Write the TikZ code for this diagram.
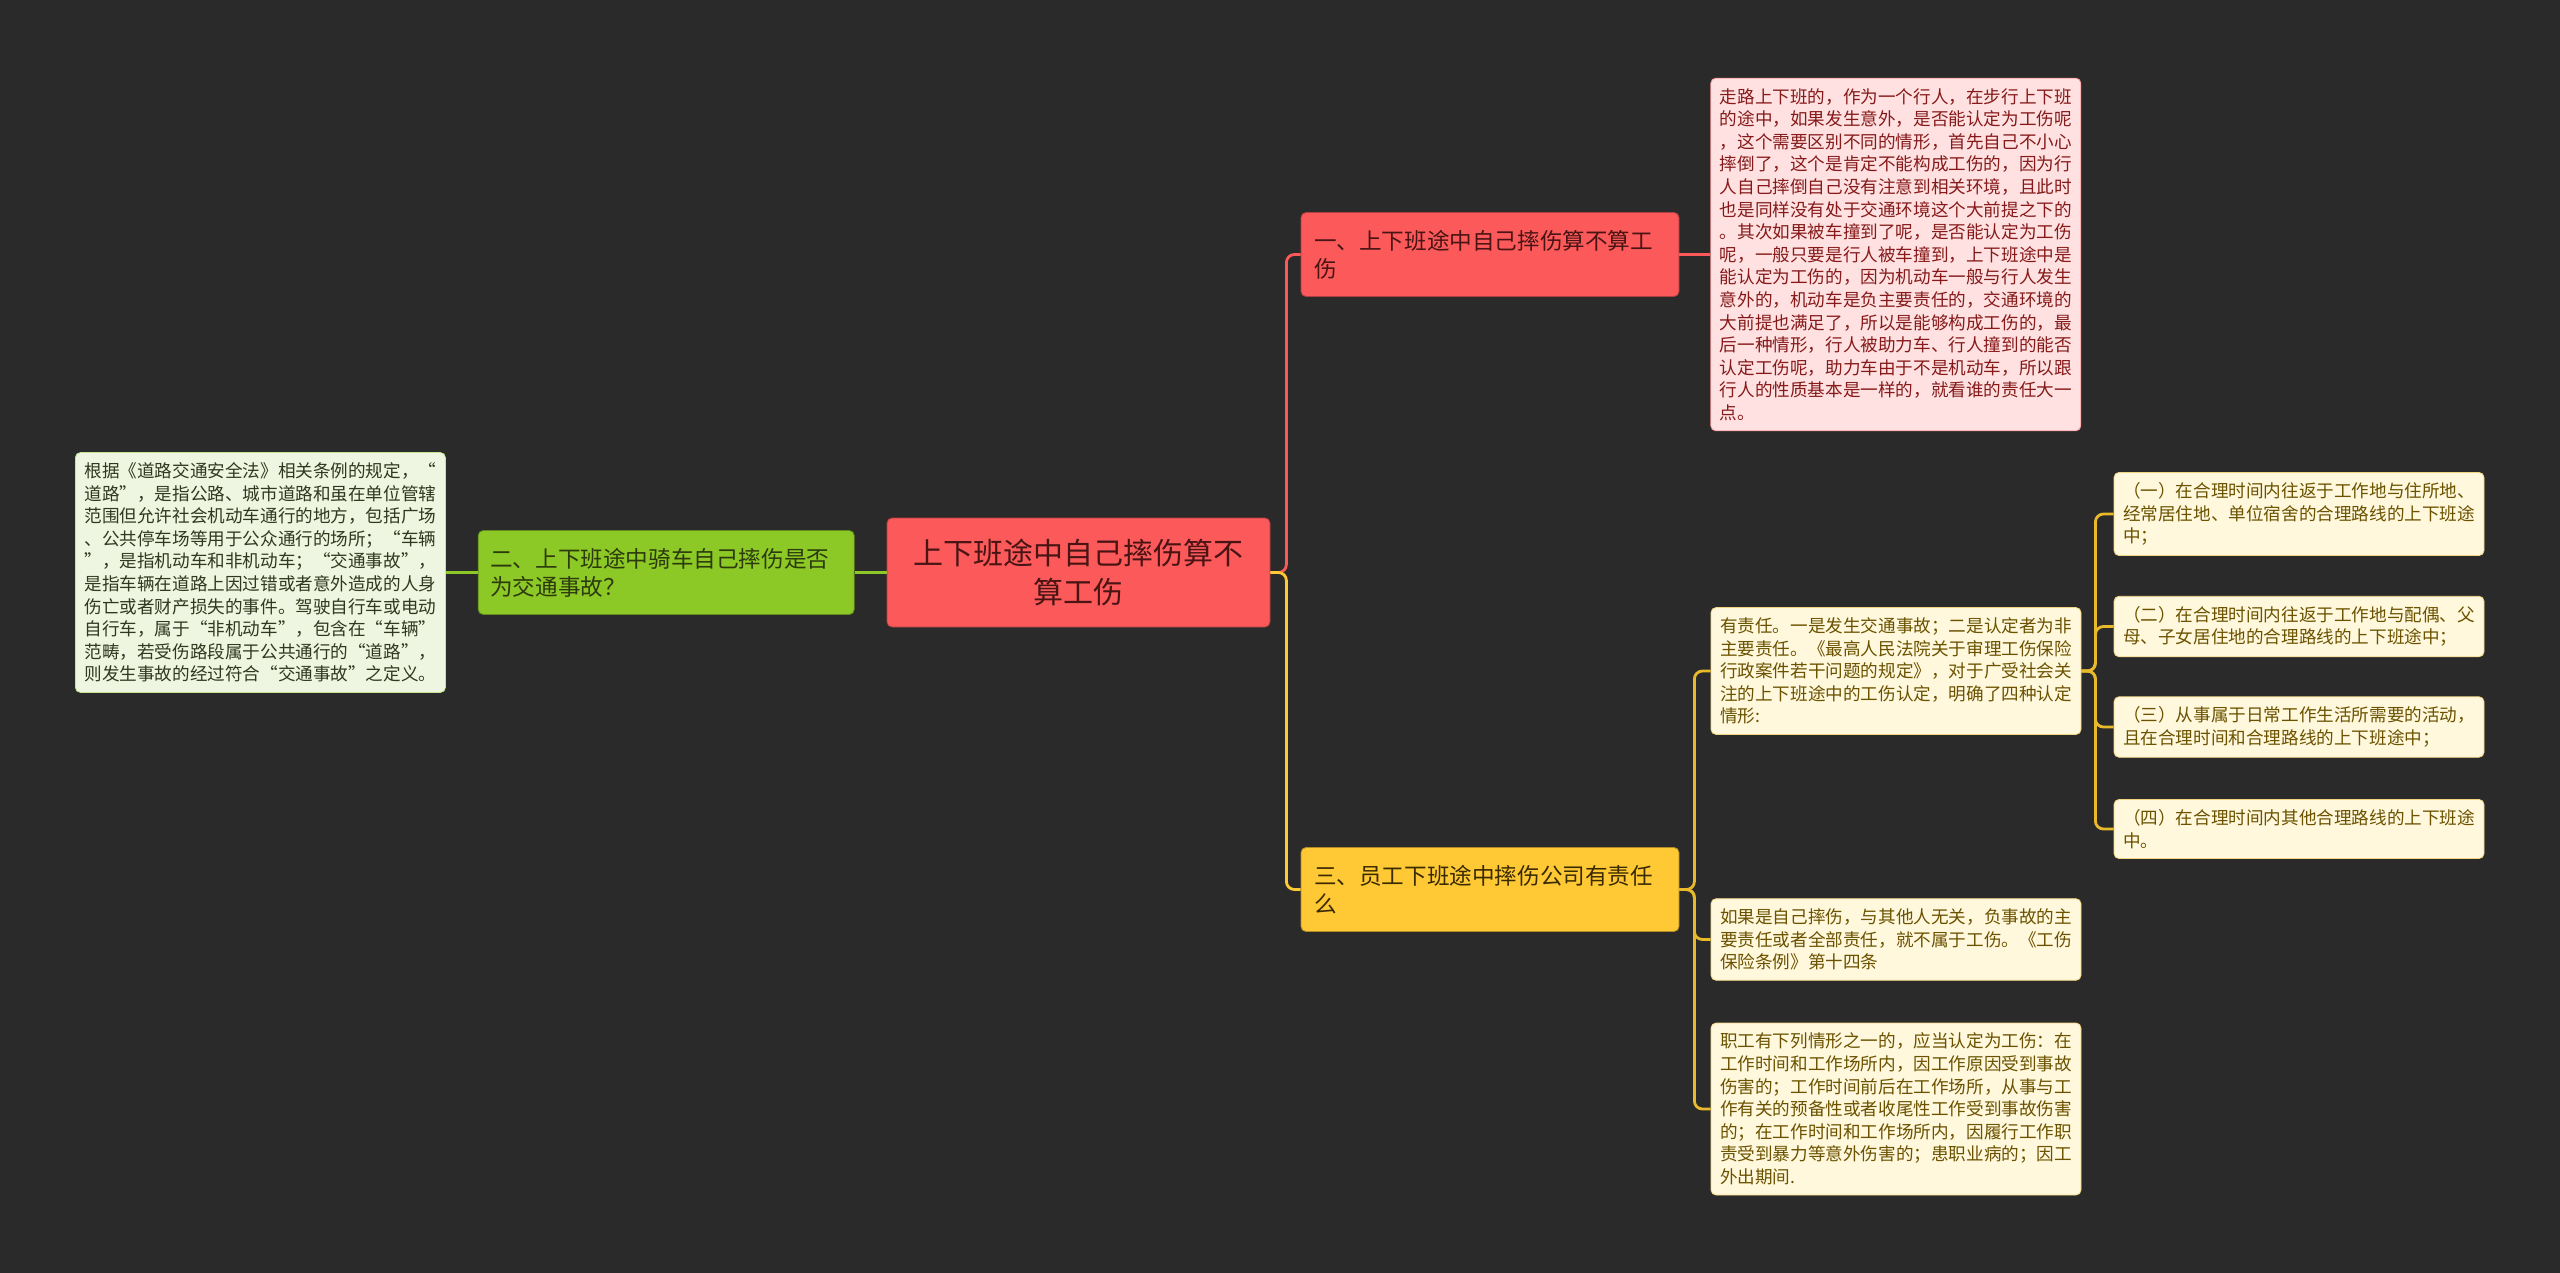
\documentclass[tikz,border=0pt]{standalone}
\usepackage{fontspec}
\newfontfamily\cjk{Noto Sans CJK SC}
\usetikzlibrary{positioning}

\definecolor{bgc}{HTML}{2A2A2A}
\definecolor{redc}{HTML}{FC5A5A}
\definecolor{redtxt}{HTML}{4A1414}
\definecolor{pinkc}{HTML}{FFE1E1}
\definecolor{pinktxt}{HTML}{861A1A}
\definecolor{greenc}{HTML}{8CC826}
\definecolor{greentxt}{HTML}{2C3A0E}
\definecolor{lgreenc}{HTML}{EEF5E0}
\definecolor{lgreentxt}{HTML}{30381F}
\definecolor{yelc}{HTML}{FFC935}
\definecolor{yeltxt}{HTML}{3A2A00}
\definecolor{creamc}{HTML}{FFF8DC}
\definecolor{creamtxt}{HTML}{6B5200}
\definecolor{goldc}{HTML}{E9B92C}

\begin{document}
\begin{tikzpicture}[x=1pt, y=-1pt,
    rootbox/.style={rectangle, rounded corners=2.5pt, fill=redc, draw=redc!70!black, line width=0.4pt,
        minimum width=191.5pt, minimum height=54.5pt, align=center, text=redtxt,
        font=\cjk\fontsize{15pt}{19.5pt}\selectfont},
    topic/.style={rectangle, rounded corners=2.5pt, line width=0.4pt, minimum height=42pt,
        text width=176pt, inner xsep=6.5pt, align=left,
        font=\cjk\fontsize{11.3pt}{14pt}\selectfont},
    note/.style={rectangle, rounded corners=2.5pt, line width=0.4pt,
        text width=176pt, inner xsep=4.5pt, inner ysep=5pt, align=left,
        font=\cjk\fontsize{8.8pt}{11.3pt}\selectfont},
    link/.style={line width=1.4pt, rounded corners=4pt}]

    \useasboundingbox[fill=bgc] (0,0) rectangle (1280,636.5);

    \node[rootbox] (root) at (539.25,286.25) {上下班途中自己摔伤算不\\算工伤};

    % 一
    \node[topic, fill=redc, draw=redc!70!black, text=redtxt] (b1) at (745,127.25)
        {一、上下班途中自己摔伤算不算工\\伤};
    \node[note, fill=pinkc, draw=redc!60, text=pinktxt, right=15.5pt of b1] (n1)
        {走路上下班的，作为一个行人，在步行上下班\\
         的途中，如果发生意外，是否能认定为工伤呢\\
         ，这个需要区别不同的情形，首先自己不小心\\
         摔倒了，这个是肯定不能构成工伤的，因为行\\
         人自己摔倒自己没有注意到相关环境，且此时\\
         也是同样没有处于交通环境这个大前提之下的\\
         。其次如果被车撞到了呢，是否能认定为工伤\\
         呢，一般只要是行人被车撞到，上下班途中是\\
         能认定为工伤的，因为机动车一般与行人发生\\
         意外的，机动车是负主要责任的，交通环境的\\
         大前提也满足了，所以是能够构成工伤的，最\\
         后一种情形，行人被助力车、行人撞到的能否\\
         认定工伤呢，助力车由于不是机动车，所以跟\\
         行人的性质基本是一样的，就看谁的责任大一\\
         点。};

    % 二
    \node[topic, fill=greenc, draw=greenc!70!black, text=greentxt, text width=176pt,
        inner xsep=6pt, left=16pt of root] (b2)
        {二、上下班途中骑车自己摔伤是否\\为交通事故？};
    \node[note, fill=lgreenc, draw=greenc!50, text=lgreentxt, left=16pt of b2] (n2)
        {根据《道路交通安全法》相关条例的规定，“\\
         道路”，是指公路、城市道路和虽在单位管辖\\
         范围但允许社会机动车通行的地方，包括广场\\
         、公共停车场等用于公众通行的场所；“车辆\\
         ”，是指机动车和非机动车；“交通事故”，\\
         是指车辆在道路上因过错或者意外造成的人身\\
         伤亡或者财产损失的事件。驾驶自行车或电动\\
         自行车，属于“非机动车”，包含在“车辆”\\
         范畴，若受伤路段属于公共通行的“道路”，\\
         则发生事故的经过符合“交通事故”之定义。};

    % 三
    \node[topic, fill=yelc, draw=yelc!70!black, text=yeltxt] (b3) at (745,444.75)
        {三、员工下班途中摔伤公司有责任\\么};
    \node[note, fill=creamc, draw=goldc!60, text=creamtxt] (n3a) at (948,335.5)
        {有责任。一是发生交通事故；二是认定者为非\\
         主要责任。《最高人民法院关于审理工伤保险\\
         行政案件若干问题的规定》，对于广受社会关\\
         注的上下班途中的工伤认定，明确了四种认定\\
         情形:};
    \node[note, fill=creamc, draw=goldc!60, text=creamtxt] (n3b) at (948,469.75)
        {如果是自己摔伤，与其他人无关，负事故的主\\
         要责任或者全部责任，就不属于工伤。《工伤\\
         保险条例》第十四条};
    \node[note, fill=creamc, draw=goldc!60, text=creamtxt] (n3c) at (948,554.5)
        {职工有下列情形之一的，应当认定为工伤：在\\
         工作时间和工作场所内，因工作原因受到事故\\
         伤害的；工作时间前后在工作场所，从事与工\\
         作有关的预备性或者收尾性工作受到事故伤害\\
         的；在工作时间和工作场所内，因履行工作职\\
         责受到暴力等意外伤害的；患职业病的；因工\\
         外出期间.};

    \node[note, fill=creamc, draw=goldc!60, text=creamtxt] (i1) at (1149.5,257)
        {（一）在合理时间内往返于工作地与住所地、\\
         经常居住地、单位宿舍的合理路线的上下班途\\
         中；};
    \node[note, fill=creamc, draw=goldc!60, text=creamtxt] (i2) at (1149.5,313.25)
        {（二）在合理时间内往返于工作地与配偶、父\\
         母、子女居住地的合理路线的上下班途中；};
    \node[note, fill=creamc, draw=goldc!60, text=creamtxt] (i3) at (1149.5,363.5)
        {（三）从事属于日常工作生活所需要的活动，\\
         且在合理时间和合理路线的上下班途中；};
    \node[note, fill=creamc, draw=goldc!60, text=creamtxt] (i4) at (1149.5,414.5)
        {（四）在合理时间内其他合理路线的上下班途\\
         中。};

    \coordinate (rt) at ([xshift=8pt]root.east);
    \coordinate (t3) at ([xshift=7.5pt]b3.east);
    \coordinate (t4) at ([xshift=7pt]n3a.east);

    \draw[link, draw=redc] (root.east) -- (rt) |- (b1.west);
    \draw[link, draw=yelc] (root.east) -- (rt) |- (b3.west);
    \draw[link, draw=redc] (b1.east) -- (n1.west);
    \draw[link, draw=greenc] (root.west) -- (b2.east);
    \draw[link, draw=greenc] (b2.west) -- (n2.east);
    \draw[link, draw=goldc] (b3.east) -- (t3) |- (n3a.west);
    \draw[link, draw=goldc] (b3.east) -- (t3) |- (n3b.west);
    \draw[link, draw=goldc] (b3.east) -- (t3) |- (n3c.west);
    \foreach \i in {i1,i2,i3,i4}
        \draw[link, draw=goldc] (n3a.east) -- (t4) |- (\i.west);
\end{tikzpicture}
\end{document}
